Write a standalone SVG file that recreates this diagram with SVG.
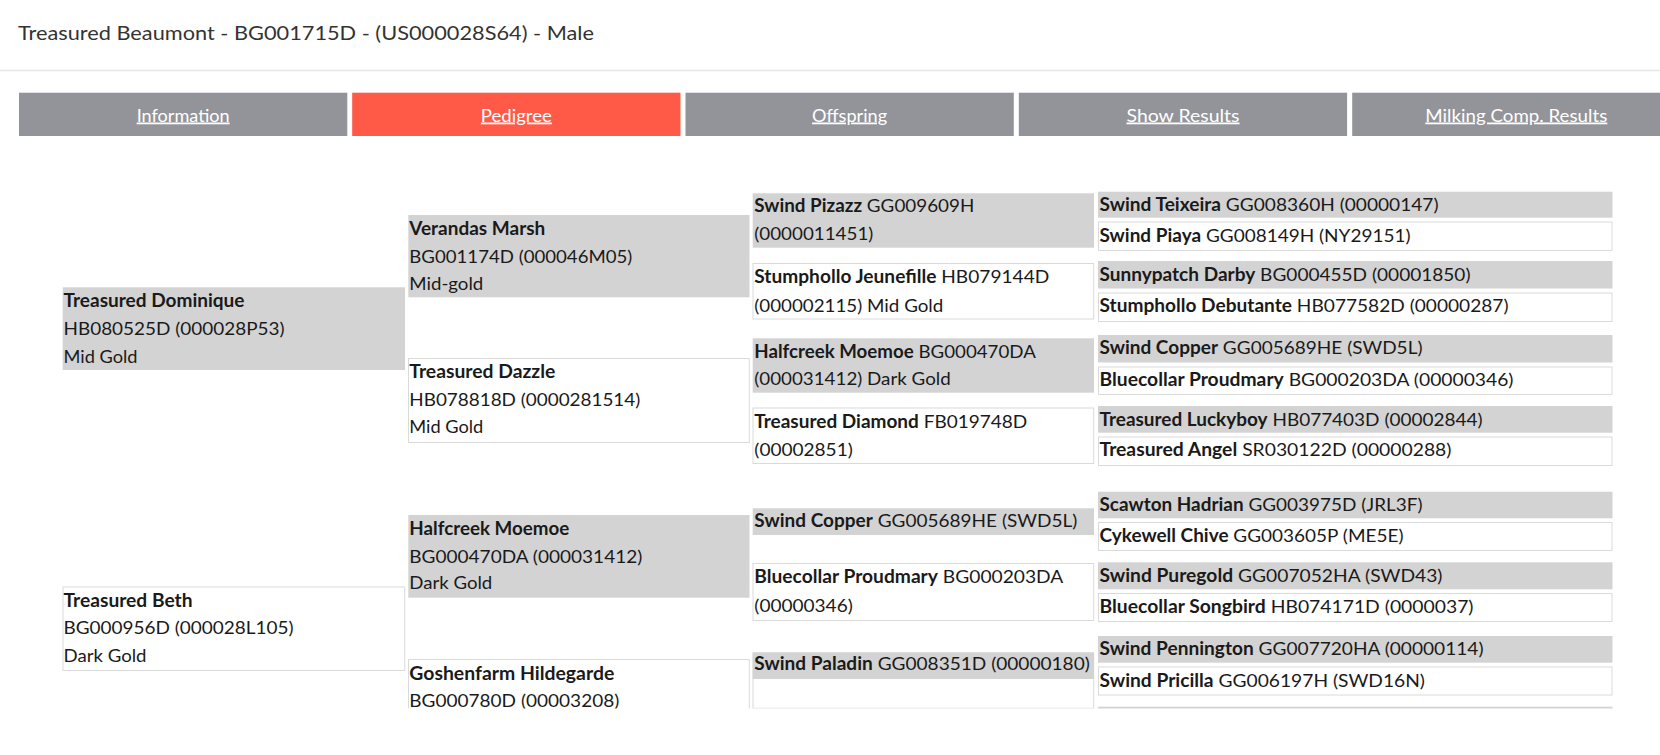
<svg xmlns="http://www.w3.org/2000/svg" width="1660" height="755" viewBox="0 0 1660 755">
<style>
.t{font-family:Lato,"Noto Sans",sans-serif;font-size:18px;fill:#1a1a1a}
.b{font-weight:bold}
.g{fill:#d3d3d3}
.w{fill:#fff;stroke:#dadada;stroke-width:1}
.tab{fill:#939499}
.act{fill:#ff5a47}
.tl{font-family:Lato,"Noto Sans",sans-serif;font-size:18px;fill:#fff;text-decoration:underline;text-anchor:middle}
.ti{font-family:Lato,"Noto Sans",sans-serif;font-size:20px;fill:#333}
</style>
<defs>
<clipPath id="clip"><rect x="0" y="0" width="1660" height="708.5"/></clipPath>
</defs>
<rect x="0" y="0" width="1660" height="755" fill="#fff"/>
<g id="header">
<text class="ti" x="18" y="39.5" textLength="576" lengthAdjust="spacingAndGlyphs">Treasured Beaumont - BG001715D - (US000028S64) - Male</text>
<line x1="0" y1="70.5" x2="1660" y2="70.5" stroke="#e6e6e6" stroke-width="1.5"/>
</g>
<g id="tabs">
<g id="tab-information"><rect class="tab" x="19" y="92.7" width="328.3" height="43.3"/><text class="tl" x="183.2" y="121.5" textLength="93" lengthAdjust="spacingAndGlyphs">Information</text></g>
<g id="tab-pedigree"><rect class="act" x="352.2" y="92.7" width="328.3" height="43.3"/><text class="tl" x="516.3" y="121.5" textLength="71" lengthAdjust="spacingAndGlyphs">Pedigree</text></g>
<g id="tab-offspring"><rect class="tab" x="685.5" y="92.7" width="328.3" height="43.3"/><text class="tl" x="849.6" y="121.5" textLength="75" lengthAdjust="spacingAndGlyphs">Offspring</text></g>
<g id="tab-show"><rect class="tab" x="1018.8" y="92.7" width="328.3" height="43.3"/><text class="tl" x="1183" y="121.5" textLength="113" lengthAdjust="spacingAndGlyphs">Show Results</text></g>
<g id="tab-milking"><rect class="tab" x="1352.2" y="92.7" width="328.3" height="43.3"/><text class="tl" x="1516.3" y="121.5" textLength="182" lengthAdjust="spacingAndGlyphs">Milking Comp. Results</text></g>
</g>
<g id="pedigree" clip-path="url(#clip)">
<g id="n-dominique"><rect class="g" x="62.7" y="287.3" width="342.3" height="82.7"/>
<text class="t b" x="63.5" y="307.3" textLength="181" lengthAdjust="spacingAndGlyphs">Treasured Dominique</text>
<text class="t" x="63.5" y="335" textLength="221" lengthAdjust="spacingAndGlyphs">HB080525D (000028P53)</text>
<text class="t" x="63.5" y="362.7" textLength="74" lengthAdjust="spacingAndGlyphs">Mid Gold</text></g>
<g id="n-beth"><rect class="w" x="63" y="587" width="341.7" height="83.5"/>
<text class="t b" x="63.5" y="606.7" textLength="129" lengthAdjust="spacingAndGlyphs">Treasured Beth</text>
<text class="t" x="63.5" y="634" textLength="230" lengthAdjust="spacingAndGlyphs">BG000956D (000028L105)</text>
<text class="t" x="63.5" y="661.7" textLength="83" lengthAdjust="spacingAndGlyphs">Dark Gold</text></g>
<g id="n-verandas"><rect class="g" x="408.3" y="215" width="341.2" height="82.3"/>
<text class="t b" x="409.3" y="235" textLength="136" lengthAdjust="spacingAndGlyphs">Verandas Marsh</text>
<text class="t" x="409.3" y="262.7" textLength="223" lengthAdjust="spacingAndGlyphs">BG001174D (000046M05)</text>
<text class="t" x="409.3" y="290" textLength="74" lengthAdjust="spacingAndGlyphs">Mid-gold</text></g>
<g id="n-dazzle"><rect class="w" x="408.5" y="358.5" width="340.8" height="84"/>
<text class="t b" x="409.3" y="378.3" textLength="146" lengthAdjust="spacingAndGlyphs">Treasured Dazzle</text>
<text class="t" x="409.3" y="406" textLength="231" lengthAdjust="spacingAndGlyphs">HB078818D (0000281514)</text>
<text class="t" x="409.3" y="433.3" textLength="74" lengthAdjust="spacingAndGlyphs">Mid Gold</text></g>
<g id="n-halfcreek2"><rect class="g" x="408.3" y="515" width="341.2" height="82.7"/>
<text class="t b" x="409.3" y="535" textLength="160" lengthAdjust="spacingAndGlyphs">Halfcreek Moemoe</text>
<text class="t" x="409.3" y="562.7" textLength="233" lengthAdjust="spacingAndGlyphs">BG000470DA (000031412)</text>
<text class="t" x="409.3" y="589.3" textLength="83" lengthAdjust="spacingAndGlyphs">Dark Gold</text></g>
<g id="n-goshenfarm"><rect class="w" x="408.5" y="659.5" width="340.8" height="84"/>
<text class="t b" x="409.3" y="680" textLength="205" lengthAdjust="spacingAndGlyphs">Goshenfarm Hildegarde</text>
<text class="t" x="409.3" y="706.7" textLength="210" lengthAdjust="spacingAndGlyphs">BG000780D (00003208)</text></g>
<g id="n-pizazz"><rect class="g" x="752.7" y="193.3" width="341.3" height="54.4"/>
<text class="t" x="754.3" y="211.7" textLength="220" lengthAdjust="spacingAndGlyphs"><tspan class="b">Swind Pizazz</tspan> GG009609H</text>
<text class="t" x="754.3" y="240" textLength="119" lengthAdjust="spacingAndGlyphs">(0000011451)</text></g>
<g id="n-jeunefille"><rect class="w" x="753" y="263.5" width="340.7" height="55.5"/>
<text class="t" x="754.3" y="283.3" textLength="295" lengthAdjust="spacingAndGlyphs"><tspan class="b">Stumphollo Jeunefille</tspan> HB079144D</text>
<text class="t" x="754.3" y="311.7" textLength="189" lengthAdjust="spacingAndGlyphs">(000002115) Mid Gold</text></g>
<g id="n-halfcreek3"><rect class="g" x="752.7" y="338.3" width="341.3" height="54.4"/>
<text class="t" x="754.3" y="357.7" textLength="281.5" lengthAdjust="spacingAndGlyphs"><tspan class="b">Halfcreek Moemoe</tspan> BG000470DA</text>
<text class="t" x="754.3" y="385" textLength="196.5" lengthAdjust="spacingAndGlyphs">(000031412) Dark Gold</text></g>
<g id="n-diamond"><rect class="w" x="753" y="408" width="340.7" height="55.5"/>
<text class="t" x="754.3" y="428.3" textLength="273" lengthAdjust="spacingAndGlyphs"><tspan class="b">Treasured Diamond</tspan> FB019748D</text>
<text class="t" x="754.3" y="456" textLength="98.5" lengthAdjust="spacingAndGlyphs">(00002851)</text></g>
<g id="n-copper3"><rect class="g" x="752.7" y="508.3" width="341.3" height="26.7"/>
<text class="t" x="754.3" y="526.7" textLength="323" lengthAdjust="spacingAndGlyphs"><tspan class="b">Swind Copper</tspan> GG005689HE (SWD5L)</text></g>
<g id="n-proudmary3"><rect class="w" x="753" y="563.5" width="340.7" height="57"/>
<text class="t" x="754.3" y="583.3" textLength="309" lengthAdjust="spacingAndGlyphs"><tspan class="b">Bluecollar Proudmary</tspan> BG000203DA</text>
<text class="t" x="754.3" y="611.7" textLength="98.5" lengthAdjust="spacingAndGlyphs">(00000346)</text></g>
<g id="n-paladin"><rect class="w" x="753" y="652.7" width="340.7" height="55.6"/><rect class="g" x="752.7" y="652.7" width="341.3" height="26.3"/>
<text class="t" x="754.3" y="670" textLength="335.5" lengthAdjust="spacingAndGlyphs"><tspan class="b">Swind Paladin</tspan> GG008351D (00000180)</text></g>
<g id="n-teixeira"><rect class="g" x="1098" y="191.7" width="514.5" height="26"/><text class="t" x="1099.5" y="210.7" textLength="339" lengthAdjust="spacingAndGlyphs"><tspan class="b">Swind Teixeira</tspan> GG008360H (00000147)</text></g>
<g id="n-piaya"><rect class="w" x="1098.5" y="222" width="513.5" height="28.5"/><text class="t" x="1099.5" y="241.7" textLength="311" lengthAdjust="spacingAndGlyphs"><tspan class="b">Swind Piaya</tspan> GG008149H (NY29151)</text></g>
<g id="n-sunnypatch"><rect class="g" x="1098" y="261" width="514.5" height="27.5"/><text class="t" x="1099.5" y="280.5" textLength="371" lengthAdjust="spacingAndGlyphs"><tspan class="b">Sunnypatch Darby</tspan> BG000455D (00001850)</text></g>
<g id="n-debutante"><rect class="w" x="1098.5" y="293" width="513.5" height="28.5"/><text class="t" x="1099.5" y="312.3" textLength="409" lengthAdjust="spacingAndGlyphs"><tspan class="b">Stumphollo Debutante</tspan> HB077582D (00000287)</text></g>
<g id="n-copper4"><rect class="g" x="1098" y="335" width="514.5" height="27.5"/><text class="t" x="1099.5" y="354.3" textLength="323" lengthAdjust="spacingAndGlyphs"><tspan class="b">Swind Copper</tspan> GG005689HE (SWD5L)</text></g>
<g id="n-proudmary4"><rect class="w" x="1098.5" y="367" width="513.5" height="27.5"/><text class="t" x="1099.5" y="385.7" textLength="414" lengthAdjust="spacingAndGlyphs"><tspan class="b">Bluecollar Proudmary</tspan> BG000203DA (00000346)</text></g>
<g id="n-luckyboy"><rect class="g" x="1098" y="406" width="514.5" height="26.7"/><text class="t" x="1099.5" y="425.5" textLength="383" lengthAdjust="spacingAndGlyphs"><tspan class="b">Treasured Luckyboy</tspan> HB077403D (00002844)</text></g>
<g id="n-angel"><rect class="w" x="1098.5" y="437" width="513.5" height="28.5"/><text class="t" x="1099.5" y="456" textLength="352" lengthAdjust="spacingAndGlyphs"><tspan class="b">Treasured Angel</tspan> SR030122D (00000288)</text></g>
<g id="n-scawton"><rect class="g" x="1098" y="491.7" width="514.5" height="26.6"/><text class="t" x="1099.5" y="510.7" textLength="323" lengthAdjust="spacingAndGlyphs"><tspan class="b">Scawton Hadrian</tspan> GG003975D (JRL3F)</text></g>
<g id="n-cykewell"><rect class="w" x="1098.5" y="522.5" width="513.5" height="28"/><text class="t" x="1099.5" y="542.3" textLength="304" lengthAdjust="spacingAndGlyphs"><tspan class="b">Cykewell Chive</tspan> GG003605P (ME5E)</text></g>
<g id="n-puregold"><rect class="g" x="1098" y="562.3" width="514.5" height="27"/><text class="t" x="1099.5" y="581.7" textLength="343" lengthAdjust="spacingAndGlyphs"><tspan class="b">Swind Puregold</tspan> GG007052HA (SWD43)</text></g>
<g id="n-songbird"><rect class="w" x="1098.5" y="593.5" width="513.5" height="28"/><text class="t" x="1099.5" y="613.3" textLength="374" lengthAdjust="spacingAndGlyphs"><tspan class="b">Bluecollar Songbird</tspan> HB074171D (0000037)</text></g>
<g id="n-pennington"><rect class="g" x="1098" y="636" width="514.5" height="26.7"/><text class="t" x="1099.5" y="655" textLength="384" lengthAdjust="spacingAndGlyphs"><tspan class="b">Swind Pennington</tspan> GG007720HA (00000114)</text></g>
<g id="n-pricilla"><rect class="w" x="1098.5" y="667" width="513.5" height="28"/><text class="t" x="1099.5" y="686.7" textLength="325.5" lengthAdjust="spacingAndGlyphs"><tspan class="b">Swind Pricilla</tspan> GG006197H (SWD16N)</text></g>
<g id="n-next"><rect class="g" x="1098" y="706.7" width="514.5" height="26"/></g>
</g>
<g id="connectors"></g>
</svg>
